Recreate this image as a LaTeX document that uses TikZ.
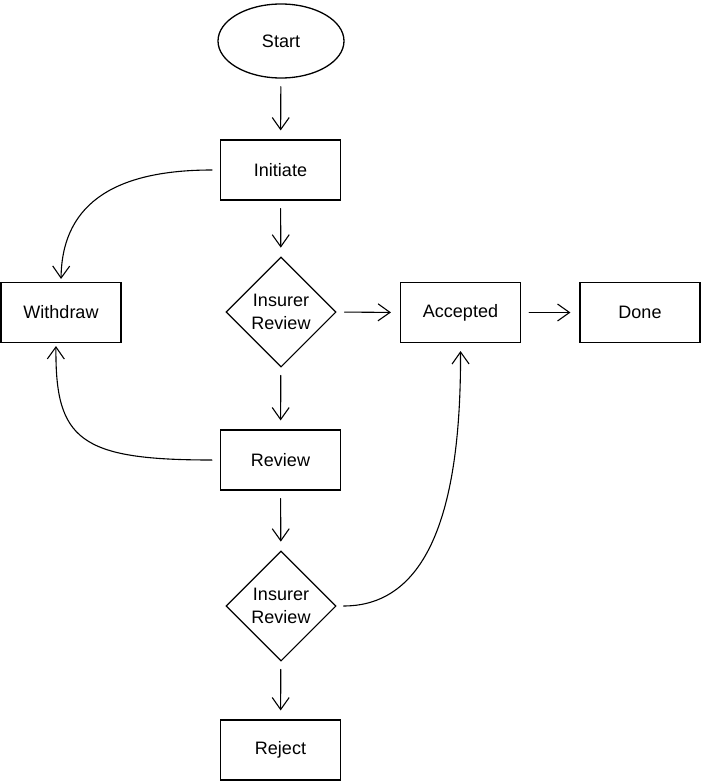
\documentclass[tikz,border=0pt]{standalone}
\usepackage{fontspec}
\setmainfont{Liberation Sans}
\usetikzlibrary{shapes.geometric,arrows.meta}
\begin{document}
\begin{tikzpicture}[x=1pt,y=-1pt,
  every node/.style={font=\fontsize{18}{23}\selectfont, align=center},
  stroke/.style={draw, line width=1.1pt},
  box/.style={stroke, rectangle, minimum width=120pt, minimum height=60pt, inner sep=0pt},
  term/.style={stroke, line width=1.3pt, ellipse, minimum width=126pt, minimum height=74pt, inner sep=0pt},
  decision/.style={stroke, diamond, aspect=1, minimum width=110pt, minimum height=110pt, inner sep=0pt},
  flow/.style={line width=1.1pt, line cap=round,
    -{Straight Barb[length=12pt,width=17pt,line width=1.1pt]},
    shorten <=8pt, shorten >=9pt}
]
\useasboundingbox (0,0) rectangle (701,781);

% shapes
\node[term]     (start)    at (281,41)  {Start};
\node[box]      (initiate) at (280.5,170) {Initiate};
\node[decision] (irev1)    at (281,312) {Insurer\\Review};
\node[box]      (withdraw) at (61,312.5) {Withdraw};
\node[box]      (accepted) at (460.5,312.5) {Accepted};
\node[box]      (done)     at (640,312.5) {Done};
\node[box]      (review)   at (280.5,460) {Review};
\node[decision] (irev2)    at (281,606) {Insurer\\Review};
\node[box]      (reject)   at (280.5,750) {Reject};

% straight connectors
\draw[flow] (start) -- (initiate);
\draw[flow] (initiate) -- (irev1);
\draw[flow] (irev1.east) -- (accepted.west);
\draw[flow] (accepted) -- (done);
\draw[flow] (irev1) -- (review);
\draw[flow] (review) -- (irev2);
\draw[flow] (irev2) -- (reject);

% curved connectors
\draw[flow, shorten >=3pt] (initiate.west) .. controls (120,170) and (62,200) .. (withdraw.north);
\draw[flow, shorten >=3pt] (review.west) .. controls (80,460) and (55,440) .. ([xshift=-5pt]withdraw.south);
\draw[flow, shorten <=7pt, shorten >=8pt] (irev2.east) .. controls (440,606) and (461,480) .. (accepted.south);
\end{tikzpicture}
\end{document}
